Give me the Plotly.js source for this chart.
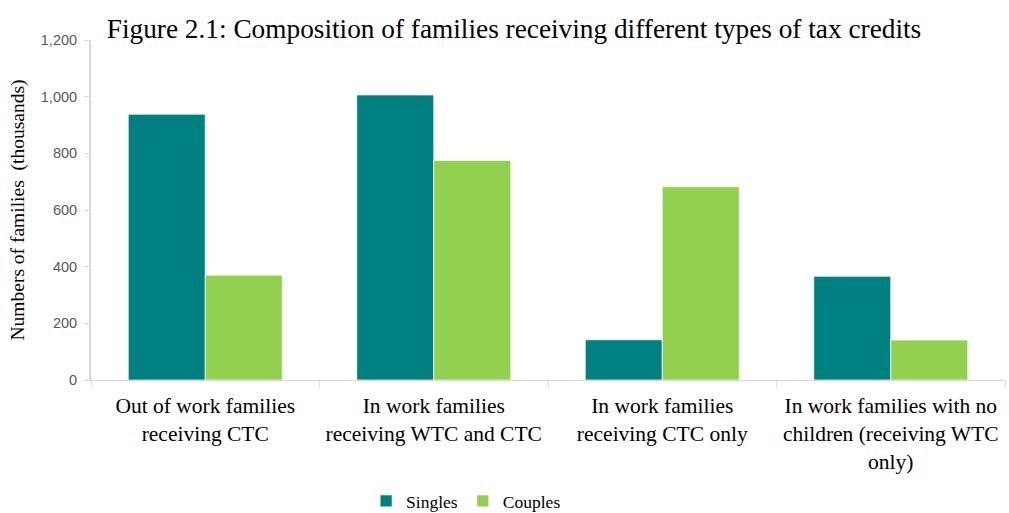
<!DOCTYPE html>
<html>
<head>
<meta charset="utf-8">
<script src="https://cdn.plot.ly/plotly-3.0.1.min.js"></script>
<style>html,body{margin:0;padding:0;background:#fff}#chart{width:1009px;height:513px}</style>
</head>
<body>
<div id="chart"></div>
<script>
const categories = [
  "Out of work families<br>receiving CTC",
  "In work families<br>receiving WTC and CTC",
  "In work families<br>receiving CTC only",
  "In work families with no<br>children (receiving WTC<br>only)"
];
const singles = [938, 1006, 142, 366];
const couples = [370, 775, 682, 141];
const yTicks = [0, 200, 400, 600, 800, 1000, 1200];
const yTickText = ["0", "200", "400", "600", "800", "1,000", "1,200"];

const serif = "Liberation Serif, Times New Roman, serif";
const sans = "Liberation Sans, Arial, sans-serif";

const data = [
  {type: "bar", name: "Singles", x: categories, y: singles,
   marker: {color: "#008080", line: {color: "rgba(255,255,255,0.7)", width: 1}}},
  {type: "bar", name: "Couples", x: categories, y: couples,
   marker: {color: "#92D050", line: {color: "rgba(255,255,255,0.7)", width: 1}}}
];

const layout = {
  width: 1009, height: 513,
  margin: {l: 91, r: 4, t: 40, b: 133, autoexpand: false},
  paper_bgcolor: "#fff", plot_bgcolor: "#fff",
  title: {text: "Figure 2.1: Composition of families receiving different types of tax credits",
          font: {family: serif, size: 27.3, color: "#000"},
          x: 514 / 1009, xref: "container", xanchor: "center",
          y: 1 - 28 / 513, yref: "container", yanchor: "middle"},
  barmode: "group",
  bargap: 0.326, bargroupgap: 0,
  showlegend: true,
  legend: {orientation: "h", x: 0.301, xanchor: "left", y: 12 / 513, yref: "container", yanchor: "middle",
           font: {family: serif, size: 17.5, color: "#000"}, itemwidth: 30, traceorder: "normal"},
  xaxis: {
    type: "category", tickson: "boundaries", ticks: "outside", ticklen: 6, tickcolor: "#d9d9d9",
    showline: true, linecolor: "#d9d9d9", linewidth: 1, showgrid: false, zeroline: false,
    tickfont: {family: serif, size: 21.5, color: "#000"}, ticklabelstandoff: 6, fixedrange: true
  },
  yaxis: {
    range: [0, 1200], tickvals: yTicks, ticktext: yTickText,
    ticks: "outside", ticklen: 5, tickcolor: "#d9d9d9",
    showline: true, linecolor: "#d9d9d9", linewidth: 2, showgrid: false, zeroline: false,
    tickfont: {family: sans, size: 14.5, color: "#595959"}, ticklabelstandoff: 4,
    title: {text: "Numbers of families  (thousands)", font: {family: serif, size: 19.5, color: "#000"}, standoff: 11}
  }
};

Plotly.newPlot("chart", data, layout, {displayModeBar: false, staticPlot: true});
</script>
</body>
</html>
